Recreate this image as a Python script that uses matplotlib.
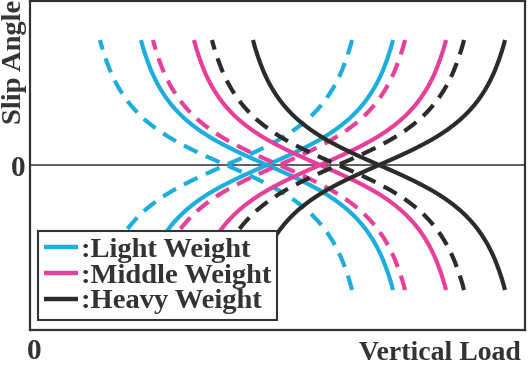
import matplotlib
matplotlib.use("Agg")
from matplotlib import pyplot as plt
import numpy as np

# half profile of one curve:
# slip angle level (px above the zero line) -> load offset from the crossing point
half_levels = [0, 5, 10, 15, 20, 25, 30, 35, 40, 45, 50, 55, 60,
               65, 70, 75, 80, 85, 90, 95, 100, 105, 110, 115, 120, 125]
half_offsets = [0, 11.4, 22.5, 33.1, 43.0, 52.2, 60.5, 68.0, 74.7, 80.8,
                86.2, 91.0, 95.4, 99.3, 102.8, 106.0, 108.9, 111.5, 113.9,
                116.1, 118.0, 119.9, 121.6, 123.2, 124.7, 126.0]

# crossing point of each pair of curves on the load axis
weights = ["Light Weight", "Middle Weight", "Heavy Weight"]
center_dashed = [196, 249, 308]
center_solid = [237, 290, 349]
colors = ["#1eaedd", "#e6409a", "#2b2b2b"]

ink = "#333333"
plt.rcParams["font.family"] = ["Liberation Serif", "DejaVu Serif"]
plt.rcParams["font.weight"] = "bold"

fig = plt.figure(figsize=(5.28, 3.74), dpi=100)
ax = fig.add_axes([30 / 528, 1 - 330 / 374, 495 / 528, 329 / 374])

# the curve falls through the zero line: positive angle on the low-load side
lv = np.array([-v for v in half_levels[::-1]] + half_levels[1:])
off = np.array(half_offsets[::-1] + [-v for v in half_offsets[1:]])

ax.axhline(0, color=ink, lw=1.1, zorder=1)

handles = []
for name, cd, cs, col in zip(weights, center_dashed, center_solid, colors):
    for c, dashed in [(cd, True), (cs, False)]:
        for sign in (1, -1):
            ln, = ax.plot(c + off, sign * lv, color=col, lw=3, zorder=2,
                          solid_capstyle="butt", dash_capstyle="butt")
            if dashed:
                ln.set_dashes([3.6, 2.2])
    h, = ax.plot([], [], color=col, lw=3.2, solid_capstyle="butt")
    handles.append(h)

ax.set_xlim(0, 495)
ax.set_ylim(-165, 164)

for s in ax.spines.values():
    s.set_color(ink)
    s.set_linewidth(1.6)

ax.set_xticks([4.5])
ax.set_xticklabels(["0"])
ax.set_yticks([0])
ax.set_yticklabels(["0"])
ax.tick_params(length=0, labelsize=21, colors=ink)
ax.tick_params(axis="x", pad=6)
ax.tick_params(axis="y", pad=3)

fig.text(2 / 528, 1.0, "Slip Angle", rotation=90, ha="left", va="top",
         fontsize=20.5, color=ink)
fig.text(521 / 528, 1 - 366 / 374, "Vertical Load", ha="right", va="bottom",
         fontsize=20, color=ink)

leg = ax.legend(handles, [":" + w for w in weights], loc="upper left",
                bbox_to_anchor=(8 / 495, 99 / 329), borderaxespad=0,
                fontsize=20.5, handlelength=1.2, handletextpad=0.1,
                labelspacing=0.0, borderpad=0.2, fancybox=False,
                framealpha=1, edgecolor=ink, labelcolor=ink)
leg.get_frame().set_linewidth(1.5)
leg.set_zorder(5)

fig.savefig("out.png", dpi=100)
